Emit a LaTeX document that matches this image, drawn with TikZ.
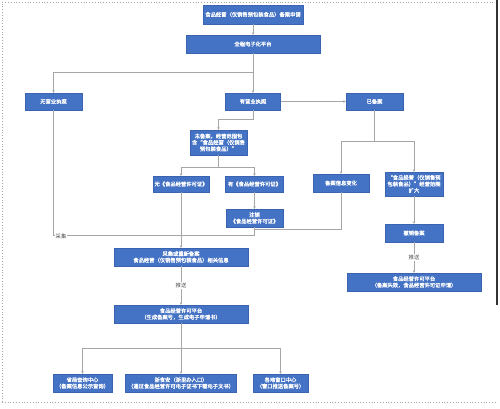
\documentclass[tikz,border=0pt]{standalone}
\usepackage{fontspec}
\newfontfamily\cjk[AutoFakeBold=1.2]{Noto Sans CJK SC}
\usetikzlibrary{arrows.meta}
\definecolor{boxblue}{HTML}{4472C4}
\definecolor{boxedge}{HTML}{3A64B0}
\definecolor{linegray}{HTML}{A6A6A6}
\begin{document}
\begin{tikzpicture}[x=1pt,y=-1pt,
  box/.style={draw=boxedge, line width=0.4pt, fill=boxblue, text=white,
    font=\cjk\bfseries\fontsize{5.3}{6.4}\selectfont, align=center, inner sep=0.5pt},
  conn/.style={draw=linegray, line width=0.7pt},
  arr/.style={conn, -{Stealth[length=2.5pt,width=2.5pt]}},
  lbl/.style={font=\cjk\fontsize{5.3}{6}\selectfont, text=black!70, fill=white, inner sep=0.8pt},
  frame/.style={draw=black!35, dotted, line width=0.8pt}]
\useasboundingbox (0,0) rectangle (500,408);
% frame
\draw[frame] (2,402) -- (2,2) -- (495,2);
\draw[frame] (2,402) -- (495,402);
\draw[black!80, line width=1.2pt] (497,0) -- (497,305);

% boxes
\node[box, minimum width=100, minimum height=19] (top) at (253,14.5) {食品经营（仅销售预包装食品）备案申请};
\node[box, minimum width=134, minimum height=18] (qc) at (253,44) {全程电子化平台};
\node[box, minimum width=57, minimum height=17] (wy) at (53.5,101.5) {无营业执照};
\node[box, minimum width=55, minimum height=17] (yy) at (253,101.5) {有营业执照};
\node[box, minimum width=57, minimum height=17] (ybei) at (374.5,101.5) {已备案};
\node[box, minimum width=57, minimum height=25] (wb) at (218.5,142.5) {未备案，经营范围包\\含“食品经营（仅销售\\预包装食品）”};
\node[box, minimum width=56, minimum height=16] (wx) at (181,184) {无《食品经营许可证》};
\node[box, minimum width=58, minimum height=16] (yx) at (254.5,184) {有《食品经营许可证》};
\node[box, minimum width=57, minimum height=18] (zx) at (254.5,218) {注销\\《食品经营许可证》};
\node[box, minimum width=56, minimum height=18] (bx) at (341,183) {备案信息变化};
\node[box, minimum width=58, minimum height=24] (kd) at (414,184) {“食品经营（仅销售预\\包装食品）”经营范围\\扩大};
\node[box, minimum width=58, minimum height=18] (cx) at (414,233) {撤销备案};
\node[box, minimum width=134, minimum height=18] (cj) at (181,257) {采集或重新备案\\食品经营（仅销售预包装食品）相关信息};
\node[box, minimum width=134, minimum height=18] (pt1) at (181,314) {食品经营许可平台\\（生成备案号，生成电子申请书）};
\node[box, minimum width=134, minimum height=18] (pt2) at (414,282) {食品经营许可平台\\（备案失效，食品经营许可证申请）};
\node[box, minimum width=59, minimum height=18] (sj) at (82.5,383) {省局查询中心\\（备案信息公示查询）};
\node[box, minimum width=111, minimum height=18] (zs) at (181,383) {浙食安（浙里办入口）\\（通过食品经营许可电子证书下载电子文书）};
\node[box, minimum width=55, minimum height=18] (gd) at (280.5,383) {各地窗口中心\\（窗口推送备案号）};

% junctions
\coordinate (j1) at (253,72);
\coordinate (j2) at (253,119);
\coordinate (j3) at (218.5,167);
\coordinate (c1) at (53.5,235);
\coordinate (c2) at (254.5,235);
\coordinate (c3) at (341,229);
\coordinate (j4) at (374.5,141);
\coordinate (j5) at (181,348);

% connectors
\draw[arr] (top) -- (qc);
\draw[arr] (qc) -- (yy);
\draw[arr] (j1) -| (wy.north);
\draw[arr] (yy) -- (ybei);
\draw[arr] (yy.south) -- (j2) -| (wb.north);
\draw[conn] (wb.south) -- (j3);
\draw[arr] (j3) -| (wx.north);
\draw[arr] (j3) -| (yx.north);
\draw[arr] (yx) -- (zx);
\draw[conn] (wy.south) -- (c1) -- (c2) -- (zx.south);
\node[lbl] (lcj) at (61,236) {采集};
\draw[conn] (bx.south) -- (c3) -- (c2 |- c3);
\draw[arr] (wx) -- (cj);
\draw[conn] (ybei.south) -- (j4);
\draw[arr] (j4) -| (bx.north);
\draw[arr] (j4) -| (kd.north);
\draw[arr] (kd) -- (cx);
\draw[arr] (cx) -- node[lbl] (lts2) {推送} (pt2);
\draw[arr] (cj) -- node[lbl] (lts1) {推送} (pt1);
\draw[conn] (pt1.south) -- (j5);
\draw[arr] (j5) -| (sj.north);
\draw[arr] (j5) -| (gd.north);
\draw[arr] (j5) -- (zs.north);
\end{tikzpicture}
\end{document}
